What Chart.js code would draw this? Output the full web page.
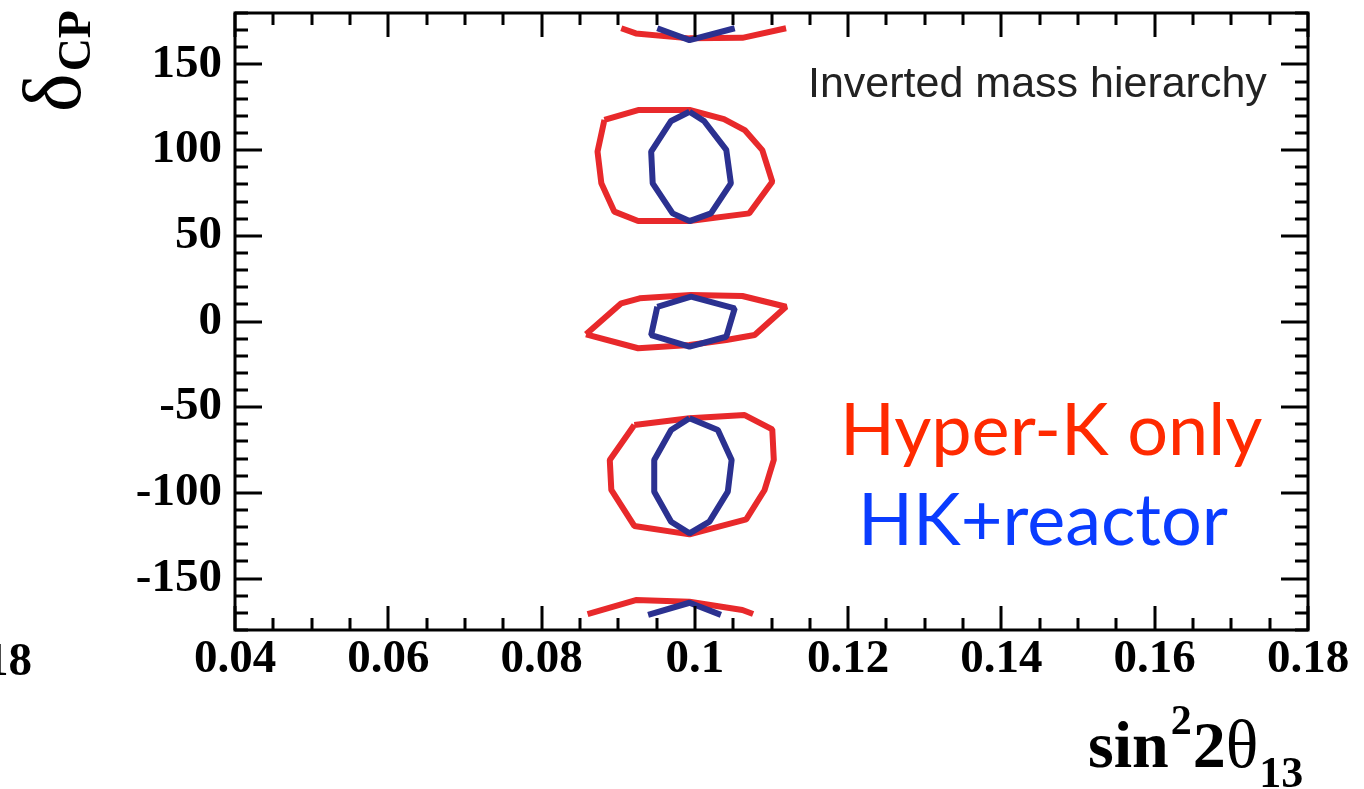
<!DOCTYPE html>
<html lang="en">
<head>
    <meta charset="UTF-8">
    <title>delta CP vs sin2 2theta13</title>
    <script src="https://cdn.jsdelivr.net/npm/chart.js"></script>
    <style>
        body { margin: 0; background: #fff; }
        #wrap { width: 1364px; height: 789px; }
    </style>
</head>
<body>
<div id="wrap"><canvas id="c" width="1364" height="789"></canvas></div>

<script>
    // tick values and labels
    const xTicks = [0.04, 0.06, 0.08, 0.10, 0.12, 0.14, 0.16, 0.18];
    const xTickLabels = ['0.04', '0.06', '0.08', '0.1', '0.12', '0.14', '0.16', '0.18'];
    const yTicks = [-150, -100, -50, 0, 50, 100, 150];
    const yTickLabels = ['-150', '-100', '-50', '0', '50', '100', '150'];

    // Hyper-K only contours [sin^2 2theta13, deltaCP]
    const hkTop = [[0.0904, 171.1], [0.0923, 168.1], [0.0993, 165.2], [0.1062, 165.5], [0.1119, 171.1]];
    const hkPos = [[0.0882, 117.6], [0.0926, 123.4], [0.0993, 123.4], [0.1038, 118.1], [0.1065, 111.7],
        [0.1088, 100.0], [0.1101, 81.6], [0.1071, 63.1], [0.0993, 58.6], [0.0926, 58.6],
        [0.0895, 64.1], [0.0878, 80.6], [0.0873, 99.1], [0.0882, 117.6]];
    const hkZero = [[0.0858, -7.5], [0.0904, 10.6], [0.0928, 13.5], [0.0995, 15.5], [0.1062, 14.9],
        [0.1119, 8.6], [0.1078, -7.9], [0.1041, -10.8], [0.0993, -13.7], [0.0926, -15.6], [0.0858, -7.5]];
    const hkNeg = [[0.0921, -60.4], [0.0993, -56.5], [0.1065, -54.6], [0.1101, -62.9], [0.1103, -80.8],
        [0.1091, -98.3], [0.1067, -115.4], [0.0993, -124.2], [0.0921, -119.3], [0.0891, -98.3],
        [0.0889, -80.8], [0.0921, -60.4]];
    const hkBottom = [[0.0860, -170.7], [0.0923, -162.5], [0.0993, -163.5], [0.1062, -168.3], [0.1076, -170.7]];

    // HK + reactor contours
    const rxTop = [[0.0951, 171.1], [0.0993, 164.2], [0.1052, 171.1]];
    const rxPos = [[0.0993, 122.4], [0.1012, 117.0], [0.1041, 100.1], [0.1047, 80.6], [0.1021, 63.1],
        [0.0993, 58.6], [0.0971, 63.1], [0.0945, 80.6], [0.0943, 99.1], [0.0969, 117.0], [0.0993, 122.4]];
    const rxZero = [[0.0951, 8.6], [0.0995, 14.5], [0.1052, 7.7], [0.1041, -8.9], [0.0993, -14.7],
        [0.0943, -7.9], [0.0951, 8.6]];
    const rxNeg = [[0.0993, -56.5], [0.1030, -63.3], [0.1048, -80.8], [0.1043, -99.3], [0.1019, -116.8],
        [0.0993, -123.6], [0.0969, -116.8], [0.0947, -99.3], [0.0947, -80.8], [0.0969, -63.3], [0.0993, -56.5]];
    const rxBottom = [[0.0939, -171.2], [0.0993, -164.1], [0.1034, -171.2]];

    const RED = '#e8292b';
    const BLUE = '#2b3190';

    function contour(pts, color) {
        return {
            data: pts.map(p => ({ x: p[0], y: p[1] })),
            showLine: true,
            borderColor: color,
            backgroundColor: color,
            borderWidth: 6,
            borderJoinStyle: 'bevel',
            pointRadius: 0,
            fill: false
        };
    }

    const serif = '"Liberation Serif", "DejaVu Serif", serif';

    // ROOT-like frame with inward ticks on all four sides
    const framePlugin = {
        id: 'frame',
        afterDatasetsDraw(chart) {
            const ctx = chart.ctx;
            const a = chart.chartArea;
            const xs = chart.scales.x, ys = chart.scales.y;
            ctx.save();
            ctx.strokeStyle = '#000';
            ctx.lineWidth = 3;
            ctx.strokeRect(a.left, a.top, a.right - a.left, a.bottom - a.top);
            ctx.beginPath();
            for (let v = 0.04; v <= 0.18 + 1e-9; v += 0.005) {
                const px = Math.round(xs.getPixelForValue(v));
                const major = Math.abs(v / 0.02 - Math.round(v / 0.02)) < 1e-6;
                const len = major ? 24 : 12;
                ctx.moveTo(px, a.bottom); ctx.lineTo(px, a.bottom - len);
                ctx.moveTo(px, a.top); ctx.lineTo(px, a.top + len);
            }
            for (let v = -180; v <= 180; v += 10) {
                const py = Math.round(ys.getPixelForValue(v));
                const len = v % 50 === 0 ? 27 : 13;
                ctx.moveTo(a.left, py); ctx.lineTo(a.left + len, py);
                ctx.moveTo(a.right, py); ctx.lineTo(a.right - len, py);
            }
            ctx.stroke();
            ctx.restore();
        },
        afterDraw(chart) {
            const ctx = chart.ctx;
            ctx.save();
            ctx.fillStyle = '#000';
            ctx.textBaseline = 'alphabetic';

            // cut-off label of the neighbouring panel
            ctx.font = 'bold 47px ' + serif;
            ctx.textAlign = 'right';
            ctx.fillText('0.18', 32, 675);

            // y title: delta_CP, rotated
            ctx.save();
            ctx.translate(80, 112);
            ctx.rotate(-Math.PI / 2);
            ctx.textAlign = 'left';
            ctx.font = '82px ' + serif;
            ctx.fillText('δ', 0, 0);
            const dw = ctx.measureText('δ').width;
            ctx.font = 'bold 46px ' + serif;
            ctx.fillText('CP', dw + 2, 10);
            ctx.restore();

            // x title: sin^2 2theta_13
            ctx.textAlign = 'left';
            let x = 1088;
            ctx.font = 'bold 66px ' + serif;
            ctx.fillText('sin', x, 767);
            x += ctx.measureText('sin').width + 2;
            ctx.font = 'bold 42px ' + serif;
            ctx.fillText('2', x, 734);
            x += ctx.measureText('2').width + 1;
            ctx.font = 'bold 66px ' + serif;
            ctx.fillText('2', x, 767);
            x += ctx.measureText('2').width;
            ctx.font = '68px ' + serif;
            ctx.fillText('θ', x, 767);
            x += ctx.measureText('θ').width + 1;
            ctx.font = 'bold 44px ' + serif;
            ctx.fillText('13', x, 787);

            // annotations
            ctx.textAlign = 'left';
            ctx.fillStyle = '#222';
            ctx.font = '43px "Liberation Sans", Arial, sans-serif';
            ctx.fillText('Inverted mass hierarchy', 808, 97);

            ctx.font = '72px Lato, "Open Sans", sans-serif';
            ctx.fillStyle = '#ff2a00';
            ctx.fillText('Hyper-K only', 840, 455);
            ctx.fillStyle = '#0a3cff';
            ctx.fillText('HK+reactor', 858, 545);
            ctx.restore();
        }
    };

    new Chart(document.getElementById('c'), {
        type: 'scatter',
        data: {
            datasets: [
                contour(rxTop, BLUE), contour(rxPos, BLUE), contour(rxZero, BLUE),
                contour(rxNeg, BLUE), contour(rxBottom, BLUE),
                contour(hkTop, RED), contour(hkPos, RED), contour(hkZero, RED),
                contour(hkNeg, RED), contour(hkBottom, RED)
            ]
        },
        options: {
            responsive: false,
            animation: false,
            layout: { padding: { top: 13, right: 56, left: 0, bottom: 0 } },
            plugins: {
                legend: { display: false },
                tooltip: { enabled: false }
            },
            scales: {
                x: {
                    type: 'linear',
                    min: 0.04,
                    max: 0.18,
                    afterBuildTicks: s => { s.ticks = xTicks.map(v => ({ value: v })); },
                    afterFit: s => { s.height = 159; s.paddingLeft = 0; s.paddingRight = 0; },
                    grid: { display: false, drawTicks: false },
                    border: { display: false },
                    ticks: {
                        padding: 2,
                        maxRotation: 0,
                        color: '#000',
                        font: { family: serif, size: 47, weight: 'bold' },
                        callback: (v, i) => xTickLabels[i]
                    }
                },
                y: {
                    type: 'linear',
                    min: -180,
                    max: 180,
                    afterBuildTicks: s => { s.ticks = yTicks.map(v => ({ value: v })); },
                    afterFit: s => { s.width = 235; s.paddingTop = 0; s.paddingBottom = 0; },
                    grid: { display: false, drawTicks: false },
                    border: { display: false },
                    ticks: {
                        padding: 13,
                        color: '#000',
                        font: { family: serif, size: 47, weight: 'bold' },
                        callback: (v, i) => yTickLabels[i]
                    }
                }
            }
        },
        plugins: [framePlugin]
    });
</script>
</body>
</html>
